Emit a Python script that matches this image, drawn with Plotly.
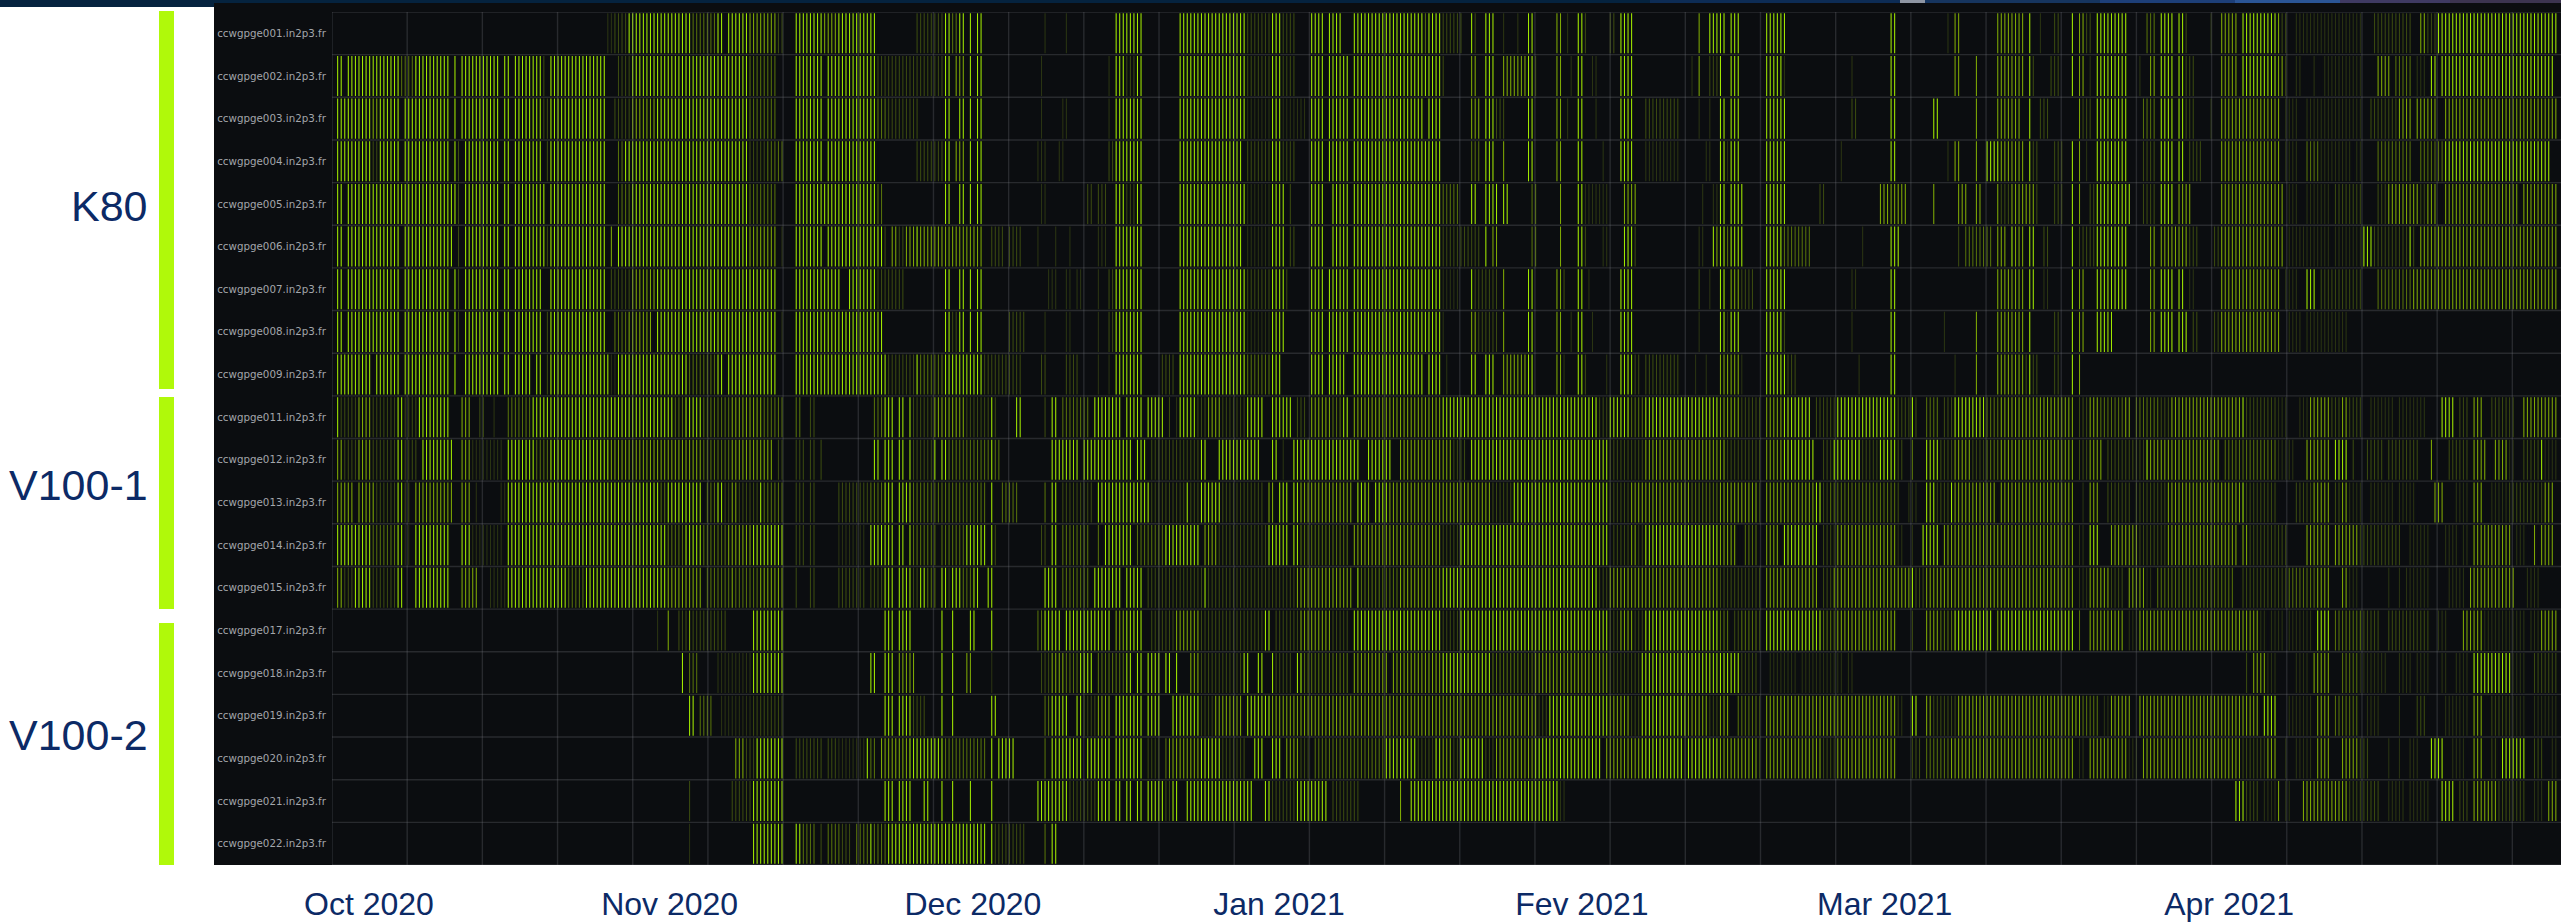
import plotly.graph_objects as go

W, H = 2561, 922
PL, PR, PT, PB = 332, 2561, 12, 865

hosts = ["ccwgpge001.in2p3.fr", "ccwgpge002.in2p3.fr", "ccwgpge003.in2p3.fr", "ccwgpge004.in2p3.fr",
         "ccwgpge005.in2p3.fr", "ccwgpge006.in2p3.fr", "ccwgpge007.in2p3.fr", "ccwgpge008.in2p3.fr",
         "ccwgpge009.in2p3.fr", "ccwgpge011.in2p3.fr", "ccwgpge012.in2p3.fr", "ccwgpge013.in2p3.fr",
         "ccwgpge014.in2p3.fr", "ccwgpge015.in2p3.fr", "ccwgpge017.in2p3.fr", "ccwgpge018.in2p3.fr",
         "ccwgpge019.in2p3.fr", "ccwgpge020.in2p3.fr", "ccwgpge021.in2p3.fr", "ccwgpge022.in2p3.fr"]

month_labels = ["Oct 2020", "Nov 2020", "Dec 2020", "Jan 2021", "Fev 2021", "Mar 2021", "Apr 2021"]
month_bucket = [9.8, 94.4, 179.7, 265.8, 351.0, 436.2, 533.1]
n_buckets = 626
x_range = [-0.59, 626.45]
grid_step = 21.15

groups = ["K80", "V100-1", "V100-2"]

# time bucket ranges "first-last:level" for every host, level 1 (low) .. 5 (high)
r00 = """77-78:1 79-82:2 83-100:5 101-107:3 108-109:5 111-116:5 117-124:4 125-126:2 130-137:5 138-141:4 142-152:5
164-171:2 172-173:5 174-175:3 176-177:5 179:5 181-182:5 200:1 206:1 220-227:5
238-256:5 257-263:2 264-266:5 267-270:2 275-278:5 280-283:5 287-306:5 307:3 308-311:5
312-317:2 320:5 321:2 324-326:5 329:1 333:1 336-337:5 344-345:4 347:1 350-351:5 352:2 359-360:2 362-365:5 384:4 387-391:5
393-395:5 403-408:5 438-439:5 454:1 456-457:4 468:4
469-475:4 477:5 480:1 484-485:2 489:5 491-492:4 493-494:2 496-504:5 510-512:3 514-517:5 519-520:5 521:2 528:1 531-535:4 537-546:5
547:4 548-549:2 552-570:1 574-584:2 587-588:4 589-591:2 592-625:5"""
r01 = """1-2:5 4-18:5 19-22:3 23-32:5 34:5 36-46:5 48-49:5 51-58:5 59:2 61-76:5
80-83:2 84-90:5 91-110:5 111-116:5 117-124:3 130-137:5 139-152:5 153-156:2
157-171:2 172-173:5 175-177:4 179:5 181-182:5 199:1 218:1 220-222:5 223-225:2 226-227:5
238-256:5 257-263:2 264-266:5 267-270:2 275-278:5 280-285:5 287-311:5
312:2 320-321:4 324-326:5 329-335:4 336-337:5 338:2 344-345:4 348:1 350-351:5 354-355:1 362-365:5 382:1 384:4 387-389:2
390:5 393-395:5 403-407:5 408:1 427:1 438-439:5 456-457:4 462:4 468:4
469-475:4 477:5 478:2 483-485:2 489:5 491-492:4 494:1 496-504:5 508:1 511-512:4 514-517:5 519-520:5 521-523:2 531-535:4 537-546:5
547-548:4 549:2 552-553:1 557:1 560-570:1 575-578:4 580-584:3 586-588:1 590-591:5 593-624:5"""
r02 = """1-10:5 11-12:4 13-18:5 20-32:5 34:5 36-46:5 48-49:5 51-58:5 59-60:2 61-76:5
79-83:2 84-90:4 91-110:5 111-116:5 117-124:3 130-137:5 139-152:5 153-155:3
156-164:2 172-173:5 176-177:5 179:5 181-182:5 199:1 205-206:1 218:1 220-227:5
238-256:5 257-263:1 264-266:5 267-273:1 275-278:5 280-285:5 287-306:5 308-311:5
320-322:4 324-326:5 327-329:2 336-337:5 344-345:4 347:1 350-351:5 355:1 362-365:5 369-378:2 384:1 387:1 390-391:5
393-395:5 403-408:5 427-428:2 438-439:5 450-451:5 462:4 468:4
469-474:4 477:5 480-482:2 491:4 492-494:2 496-504:5 509-512:3 514-517:5 519-520:5 521-523:2 528:1 531-546:4
547:4 549-552:1 555-570:1 573-580:2 581-584:4 586-591:4 594-625:4"""
r03 = """1-10:5 11-12:2 13-18:5 20-32:5 34:5 35:2 37-46:5 48-49:5 51-58:5 60:2 61-76:5
80-81:3 82-90:5 91-110:5 111-116:5 117-121:2 122-126:3 130-137:5 139-152:5
164-171:2 172-173:5 175-177:4 179:5 181-182:5 198-200:1 204-205:1 218-219:2 220-227:5
238-255:5 257-263:2 264-266:5 267-270:2 275-278:5 280-285:5 287-311:5
320-322:3 324-326:5 329:4 336-337:5 344-345:4 350-351:5 357:1 362-365:5 369-378:1 386-387:1
390:5 391:5 392:1 393-395:5 403-408:5 424:1 438-439:5 454:1 456-457:4 462:4 465-468:5
469-475:4 477:5 478-479:2 484-486:2 489:5 491:4 493:1 496-504:5 509-512:2 514-517:5 519-520:5 522-525:2 531-546:4
547:4 549-552:1 555-558:3 559-567:1 569-570:1 575-584:3 587-593:3 594-623:5"""
r04 = """1-2:5 4-33:5 34:5 35:2 37-46:5 48-49:5 51-59:5 61-76:5
80-83:3 84-90:5 91-110:5 111-116:5 117-124:3 130-152:5 153-154:3
172-173:5 176-177:5 179:5 181-182:5 199-200:1 212-213:2 215-217:2 220-222:5 223-225:2 226-227:5
238-256:5 257-263:1 264-267:5 269:2 275-278:5 281-285:5 287-311:5
312-316:3 320-321:5 324-327:5 329-330:5 337-338:3 345:4 350-351:5 352-358:1 363-366:4 385:1 388-389:1
390-391:5 393-396:5 403-408:5 418-419:2 435-442:4 450:4 457-459:4 462-463:4 468:4
469-471:2 472-478:4 479:2 484-486:2 489:5 491:4 494-495:2 496-505:5 509-512:2 514-517:5 519-522:4 531-546:4
547-548:4 550-552:1 555-561:1 563-570:2 575-577:2 578-586:4 587-588:2 589-591:4 594-614:4 616-625:4"""
r05 = """1-2:5 4-18:5 20-33:5 35:2 37-46:5 48-49:5 51-59:5 60:2 61-76:5
78:4 80-90:5 91-110:5 111-116:5 117-124:4 126:1 130-137:5 139-154:5 155:2
157-158:4 159-160:2 161-163:4 164:5 165-178:4 179-182:4 185-188:2 190-193:2 198:1 203:1 207:1 215-217:1 220-227:5
238-255:5 257-263:1 264-267:5 269-270:2 275-278:5 281-285:5 287-311:5
312-322:2 324:5 326-327:4 337-338:3 345:4 350-351:5 352:2 357-358:1 363-365:5 366:2 384-385:1 388:5 389:4
390-391:5 392:3 393-396:5 403-407:5 408-415:3 430:1 438-440:5 457:2 459-466:3 468:4
469-470:4 472:5 473-475:4 477-478:5 481-482:2 489:5 491-495:2 496-504:5 511-512:4 514-521:4 522-524:2 529-530:2 531-546:4
547-548:4 550-561:1 563-570:1 571-573:5 574-583:2 584:5 585:2 587-592:4 593-625:4"""
r06 = """1-2:5 4-18:5 20-32:5 34:5 35:2 37-46:5 48-49:5 51-53:5 54-58:5 61-76:5
78-83:2 84-90:4 91-110:5 111-124:5 130-142:5 145-152:5 153-155:2
156-160:2 172-173:5 176-177:5 179:5 181-182:5 201-203:1 206-207:1 209-210:1 215:1 218-219:2 220-227:5
238-256:5 257-263:2 264-267:5 268:2 275-278:5 280-285:5 287-311:5
312-316:1 320:5 321-327:2 329:4 336-337:5 344-345:4 346:2 350-351:5 353:1 362-365:5 384:2 387:1
390-391:5 393-395:4 396-399:2 403-408:5 427-428:1 438-439:5 468:4
469-475:4 477-478:5 481-482:1 489:5 491-492:4 496-504:5 511-512:4 514-517:5 519-520:5 522-523:1 531-546:4
547:4 549-552:1 555-557:5 559-570:2 575-584:3 585-625:4"""
r07 = """1-2:5 4-18:5 20-32:5 34:5 35:2 37-46:5 48-49:5 51-58:5 60:2 61-76:5
79-82:3 83-89:4 91-110:5 111-124:5 126:1 130-154:5
172-173:5 174-175:2 176-177:5 179:5 181-182:5 190-194:2 200:1 206-207:1 215:1 218-219:2 220-227:5
238-256:5 257-263:1 264-267:5 275-278:5 280-285:5 287-311:5
312:1 320-321:4 322-327:2 329:4 336-337:5 344-345:4 348:1 350-351:5 354:1 362-365:5 384:1
390-391:5 392:1 393-395:5 403-407:5 408:2 427:1 438-439:5 453:1 462:4 468:4
469-475:4 477:5 484-485:2 489:5 491-492:4 496-500:5 511-512:4 514-517:5 519-521:5 523-524:2 529-530:2 531-546:4
547:4 550-553:1 555-566:1"""
r08 = """1-10:5 12-18:5 20-32:5 34:5 37-46:5 48-49:5 51-53:5 54-55:5 57-58:5 60:2 61-77:5
78-79:1 80-90:5 91-99:5 100-107:3 108-109:5 111-124:5 130-155:5
156-163:2 164:5 165-171:3 172-178:5 179-182:5 183-193:2 199-200:2 206-209:2 215:1 218:1 220-227:5 233:2
234-236:2 238-256:5 257-263:3 264-266:5 275-278:5 280-284:5 287-306:5 308-311:5
313:1 320-321:5 324-326:5 329-335:4 336-337:5 344-345:4 346:1 350-351:5 352:2 358:1 362-365:5 366-367:2 369-378:2 383:1 386:1
390-395:4 396:1 403-408:5 409-411:2 429:1 438-439:5 456:1 462:4 468:4
469-475:4 476:2 477:5 478-479:2 484-485:2 489:5 491:4"""
r09 = """1:5 2-6:2 7-10:4 11-17:2 18:5 19:5 20-23:2 24-32:5 36-38:4 41-42:2 45:1 49-55:3 56-60:5 61-77:5
78-95:5 96-98:3 99-103:5 104-111:3 112-120:4 121-126:3 130-131:3 134-135:2 152-154:3 155:5
156-157:5 159-160:5 162:5 163-168:2 169-177:4 178-184:2 185:5 186:2 192-193:5 200:2 202-203:5 205-212:3 214-221:5 223-227:5 229-233:5
235:2 237:1 238-242:5 243-245:2 246-249:4 250-256:2 257-261:5 264-269:5 271-273:2 275-280:4 281-283:3 284-285:5 287-311:4
312-355:5 356-358:2 359-364:5 365-368:3 369-389:5
390-395:4 396-401:2 403-407:4 408-415:5 417-422:2 423-439:5 440-443:2 444:5 445:2 448-451:3 453-455:2 456-464:5 465-468:3
469-489:4 491-493:2 494-496:4 497-503:3 504-505:4 507-513:3 514-516:2 517-536:4 537:5 538-546:2
547-549:1 553-555:1 556-561:4 562-564:2 565-566:4 567-570:2 573-579:1 581-588:1 593-596:5 598-600:2 602-604:4 607-613:2 616-625:4"""
r10 = """1-2:4 3-6:2 7-10:4 11-17:2 18-19:5 20-23:2 25-33:5 36-38:4 39-47:1 49-56:5 57-60:3 61-77:5
78-103:4 104-111:3 112-123:4 125-126:2 130-132:2 134-135:2 137:2 152-153:5 155:5
156-157:5 159-160:5 162:5 163-168:2 169:5 171-172:5 173-184:3 185:5 186-187:3 202-209:5 211-224:5 226-228:5 230-233:2
234-243:2 244-245:5 249-260:5 264-265:5 267:1 270-288:5 291-297:5 300-311:4
312-314:4 315-318:2 320-358:5 359-368:2 369-389:4
390-391:4 392-401:2 403-407:4 408-416:5 419-421:2 422-425:5 426-429:5 430-434:2 435-439:5 440-441:2 444:3 448-451:5 452-455:2 456-460:4 461-464:2 465-468:3
469-489:4 491-493:2 494-497:4 499-505:2 506-509:2 510:5 511-530:4 532-546:3
547-551:1 555-561:4 563-566:5 568:2 572-576:2 578-586:2 590:4 595-600:2 602-605:4 608-611:4 612-613:1 616-620:2 621:5 622-625:1"""
r11 = """1-5:4 7-11:4 12-17:2 18-19:5 20-21:2 23-33:4 36-38:4 40:1 47-48:1 49-77:5
78-91:5 92-93:3 94-103:5 105-107:3 108-109:5 110-111:2 112-113:4 114-119:2 120:5 121-126:3 130-132:2 134-135:2 142-150:2 151-154:3 155:5
156-157:5 159-162:5 163-183:3 185:5 188-192:3 200:3 202-203:5 205-213:2 215-229:5 230-233:2
234-239:2 240:5 241-243:2 244-249:5 250-261:2 263-264:4 266-268:5 270-271:5 272-286:4 288-290:5 291:4 293-296:5 297-311:4
312-325:4 326-331:2 332-358:5 359-364:2 365-381:4 382-389:3
390-400:4 401:2 403-407:4 408-416:4 417-418:5 419-420:2 421-439:3 440:2 443-445:1 448-450:5 451-454:2 455:5 456-467:4
469-489:4 492:1 494-496:4 499-505:2 507-515:2 516-536:4 537:5 538-546:2
552-556:2 557-561:4 563-564:2 565-566:4 567-570:1 573-579:1 581-585:1 591-593:4 597-600:1 602-604:4 607-611:1 612-621:2 622-624:4"""
r12 = """1-10:5 11-17:3 18-19:5 20-21:1 23-32:5 36-38:5 39-47:1 49-77:5
78-93:5 94-98:3 99-103:5 104-110:3 111-117:4 118-126:5 130-132:2 134-135:2 142-149:1 151-155:5
156-157:5 159-160:5 162:5 163-169:3 171-177:3 178-183:5 185:5 186:2 199-200:2 202-203:5 205-212:3 215:3 217-224:5 226-233:3
234-243:5 245-248:4 249-262:2 263-268:5 270-271:5 272-285:3 287-311:4
312-316:2 317-358:5 360-364:2 365-366:4 367-368:2 369-389:5
390-394:4 397-400:3 403-406:4 408-417:5 419-422:2 423-439:4 440-441:1 444:1 447-451:5 453-468:4
469-489:4 491-492:1 494-496:5 500-507:4 508-515:2 516-535:4 537-538:4 539-546:2
547-549:2 555-561:4 563-569:4 570-581:2 584-589:1 594-597:1 599-600:1 602-612:4 614-616:1 619:4 621-624:4"""
r13 = """1-2:4 3-5:2 6-10:5 11-17:2 18-19:5 23-32:5 36-40:4 44-48:1 49-65:5 66-70:3 71-77:5
78-93:5 94-103:4 105-111:3 112:4 113-119:3 120-126:4 130:2 134-135:2 142-149:2 151-154:2 155:5
156-157:5 159-162:5 163-164:2 165-166:5 167-169:3 171-172:5 173:2 174-176:5 177-179:3 180-181:5 184-185:5 200-203:5 205-212:3 214-221:5 223-227:5 229-233:2
234-244:2 245:5 246-270:2 271-286:4 288:5 289-299:3 300-311:4
312-355:5 356-358:2 359-389:4
390-401:2 403-417:4 419-421:2 422-443:4 444:5 445-447:2 448-468:4
469-489:4 491-493:1 494-499:4 500-503:2 505-509:4 510-511:1 513-534:3 537-546:2
547-549:2 550-557:3 558-561:4 565-566:4 567-569:1 578:1 581:1 583-589:1 595-599:1 601-613:4 617-620:1"""
r14 = """91:1 94:4 97-99:2 100:4 101-110:2 118-126:5 155:5
156-157:5 159-162:5 171:5 174:5 179-180:5 185:5 198-199:3 200-204:5 206-218:5 220-222:4 223-227:5 230-233:2
234-236:2 237-243:4 244-261:2 262-263:5 265-271:2 272-273:4 274-280:4 281-285:2 287-311:5
312-316:2 317-358:5 359-361:2 362-365:4 366-368:2 369-389:5
390-392:3 394-395:2 396-400:3 401:2 403-418:5 419-422:3 423-439:4 444:2 448-451:4 452-455:3 456-466:5 468:4
469-489:5 491:3 494-503:4 505-507:1 508-541:4 542-543:1 545-546:1
547-548:1 550-556:1 558-561:5 563-570:3 571-575:2 578-589:2 592-594:1 599-604:4 605-616:1 618-620:1 621-625:4"""
r15 = """98:5 100-102:3 108-117:1 118-126:5 151-152:5 155:5
156-157:5 159-163:4 171:5 174:5 178-179:4 185:1 199-201:2 202-205:4 206-209:3 210-213:5 215-222:3 223-224:5 226-227:5 229-232:5
234-235:5 237:5 241-243:4 244-255:2 256-257:5 260-261:5 264:5 265-269:2 271-272:5 273-285:3 287-296:4 298-311:4
312-325:5 326-337:3 338-358:4 359-367:2 368-389:5
390-395:5 396-400:2 404-411:1 413-421:1 422-424:1 426-427:1
538:2 540-543:4 544-546:1
552-555:1 557-561:4 565-569:3 570-577:1 581-584:1 586-589:1 593-594:1 597-600:1 602-612:5 613-616:1 619-625:2"""
r16 = """100-101:5 103-106:3 109-117:1 118-126:2 155:5
156-157:5 159-162:5 163-166:2 171:5 174:5 185-186:5 200-201:3 202-206:5 209-210:5 211-214:2 215-218:4 220-227:5 229-232:5
236-243:5 244-247:2 248-255:4 257-263:5 264-311:4
312-338:4 339-341:2 342-358:5 359-364:4 365-367:2 368-380:5 381-386:4 387-389:2
390-392:4 395-400:3 401:2 403-439:4 440-441:1 444-445:5 448-449:4 450-456:2 457-468:4
469-491:4 492-496:3 498-499:1 500-505:4 508-541:4 543-546:5
550-556:1 558-561:4 563-569:3 572-575:1 581:1 586-588:2 594-600:1 602-604:4 607-612:2 613-616:1 619-625:1"""
r17 = """113-115:4 116-118:2 119-126:5 130-137:2 139-141:2 142-149:1 150:5 151-152:3 154-155:4
156-161:4 162-171:5 172-183:3 185:5 187-191:5 200:3 202-210:5 212-218:5 220-227:5 229-232:2 234:3
235-243:4 244-249:5 250-256:2 259-261:5 264-266:5 268-271:4 272-274:2 276-295:3 296-304:5 305-309:2 310-311:5
312-314:4 315-316:2 317-323:5 324-326:2 327-337:4 338-356:5 358-367:4 368-379:5 380:2 381-389:5
390-400:4 401:2 403-418:4 419-422:2 423-439:4 444-446:2 448-454:3 455-468:4
469-489:4 491-492:1 494-504:4 505-507:1 509-536:4 537-543:2 544-546:4
549:1 552-556:1 558-561:4 565-569:4 570-572:2 578:1 581:1 584-586:1 590-593:5 596-599:1 602-604:4 607-608:2 610-616:5 619-621:2 624-625:1"""
r18 = """100:2 112-117:2 118-126:5 155:5
156-157:5 159-162:5 166-167:5 171:5 174:5 179:5 185:5 198-206:5 207-214:2 215-218:5 220-221:5 223-224:5 226-227:5 229-233:5
234-235:2 236-237:5 240-258:5 262-263:5 264-270:2 271-279:5 281-288:2 300:4 303-311:5
312-344:5 345-346:1
535-537:5 538-541:2 543-546:1
547:4 549-550:1 554-566:4 567-575:2 578-582:1 584-589:1 593-596:5 598-600:2 602-608:4 609-616:2 619-621:1 623-625:4"""
r19 = """100:1 118-126:5 130-131:5 132-135:3 137:2 139-142:3 143-145:2 147-150:3 151:5 152-155:3
156-183:5 185:5 186-194:2 200:3 202-203:5"""

rows = [r00, r01, r02, r03, r04, r05, r06, r07, r08, r09, r10, r11, r12, r13, r14, r15, r16, r17, r18, r19]

level_colors = {1: "#2a3412", 2: "#3a4a10", 3: "#55700a", 4: "#7ea804", 5: "#a0e800"}
BG = "#0b0d10"


def paper_x(px):
    return (px - PL) / (PR - PL)


def paper_y(py):
    return (PB - py) / (PB - PT)


def decode(text):
    values = [0] * n_buckets
    for token in text.split():
        span, level = token.split(":")
        first, _, last = span.partition("-")
        for i in range(int(first), int(last or first) + 1):
            values[i] = int(level)
    return values


grid = [decode(t) for t in rows]

fig = go.Figure()
for lev in range(1, 6):
    xs, bases = [], []
    for r, vals in enumerate(grid):
        for c, v in enumerate(vals):
            if v == lev:
                xs.append(c)
                bases.append(r - 0.47)
    fig.add_trace(go.Bar(x=xs, y=[0.94] * len(xs), base=bases, width=0.30,
                         marker=dict(color=level_colors[lev], line=dict(width=0)),
                         hoverinfo="skip", showlegend=False))

shapes = []


def rect(x0, y0, x1, y1, color, layer="below"):
    shapes.append(dict(type="rect", xref="paper", yref="paper", x0=paper_x(x0), x1=paper_x(x1),
                       y0=paper_y(y0), y1=paper_y(y1), fillcolor=color, line=dict(width=0), layer=layer))


# page furniture
rect(0, 0, 214, 7, "#05233f")
rect(214, 0, 2561, 3, "#05233f")
for x0, x1, col in [(1650, 1900, "#0d2c55"), (1900, 1925, "#8f96a3"), (1925, 2100, "#16355f"),
                    (2100, 2235, "#1d3f78"), (2235, 2340, "#2a5596"), (2340, 2450, "#3f3a63"), (2450, 2561, "#3c3450")]:
    rect(x0, 0, x1, 3, col)
rect(214, 3, 2561, 865, BG)
rect(159, 11, 174, 389, "#b0f90a")
rect(159, 397, 174, 609, "#b0f90a")
rect(159, 623, 174, 865, "#b0f90a")

# grid drawn above the cells
grid_color = "rgba(120,122,128,0.27)"
for k in range(0, 30):
    xv = x_range[0] + grid_step * k
    if xv <= x_range[1]:
        shapes.append(dict(type="line", xref="x", yref="paper", x0=xv, x1=xv, y0=0, y1=1,
                           line=dict(color=grid_color, width=1.4), layer="above"))
for r in range(0, len(hosts) + 1):
    shapes.append(dict(type="line", xref="paper", yref="y", x0=0, x1=1, y0=r - 0.5, y1=r - 0.5,
                       line=dict(color=grid_color, width=1.4), layer="above"))

annotations = [dict(text=g, xref="paper", yref="paper", x=paper_x(150), y=paper_y(py), xanchor="right", yanchor="middle",
                    showarrow=False, font=dict(family="Liberation Sans", size=43, color="#0c2a66"))
               for g, py in zip(groups, [206, 485, 735])]

fig.update_layout(
    width=W, height=H,
    margin=dict(l=PL, r=W - PR, t=PT, b=H - PB, pad=0, autoexpand=False),
    paper_bgcolor="white", plot_bgcolor=BG,
    barmode="overlay", showlegend=False,
    shapes=shapes, annotations=annotations,
    xaxis=dict(range=x_range, showgrid=False, zeroline=False, showline=False,
               tickmode="array", tickvals=month_bucket, ticktext=month_labels,
               ticks="outside", ticklen=11, tickcolor="rgba(0,0,0,0)",
               tickfont=dict(family="Liberation Sans", size=32, color="#0c2a66")),
    yaxis=dict(range=[len(hosts) - 0.5, -0.5], showgrid=False, zeroline=False, showline=False,
               tickmode="array", tickvals=list(range(len(hosts))), ticktext=hosts,
               ticks="outside", ticklen=3, tickcolor="rgba(0,0,0,0)",
               tickfont=dict(family="DejaVu Sans", size=10.3, color="#a3a6ab")),
)

fig.write_html("out.html", config={"staticPlot": True},
               post_script="document.body.style.margin='0';document.body.style.overflow='hidden';"
                           "document.querySelectorAll('.bars path').forEach(function(p){p.style.shapeRendering='geometricPrecision';});")
